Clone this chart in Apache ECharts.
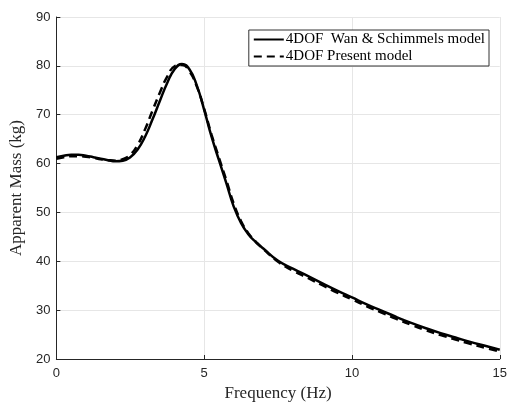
<!DOCTYPE html>
<html>
<head>
<meta charset="utf-8">
<script src="https://cdn.jsdelivr.net/npm/echarts@6/dist/echarts.min.js"></script>
<style>
  html, body { margin: 0; padding: 0; background: #fff; }
  #main { width: 510px; height: 407px; }
</style>
</head>
<body>
<div id="main"></div>
<script>
  // frequency (Hz)
  var freq = [0, 0.25, 0.5, 0.75, 1, 1.25, 1.5, 1.75, 2, 2.25, 2.5, 2.75, 3, 3.25, 3.5, 3.75,
    4, 4.25, 4.5, 4.75, 5, 5.25, 5.5, 5.75, 6, 6.25, 6.5, 6.75, 7, 7.5, 8, 8.5, 9, 9.5,
    10, 10.5, 11, 11.5, 12, 12.5, 13, 13.5, 14, 14.5, 15];
  // apparent mass (kg)
  var wanSchimmels = [61.3, 61.6, 61.8, 61.8, 61.6, 61.3, 61.0, 60.7, 60.5, 60.6, 61.3, 62.9, 65.5, 69.0, 72.8, 76.5,
    79.3, 80.4, 79.3, 76.0, 71.0, 65.5, 60.7, 56.0, 51.2, 47.8, 45.5, 43.9, 42.6, 40.1, 38.5, 37.0, 35.5, 34.0,
    32.6, 31.2, 29.9, 28.6, 27.4, 26.3, 25.3, 24.4, 23.5, 22.7, 21.9];
  var present = [61.0, 61.3, 61.5, 61.5, 61.4, 61.2, 60.9, 60.7, 60.6, 60.9, 61.8, 63.8, 67.0, 70.8, 74.5, 77.8,
    79.9, 80.2, 78.9, 75.8, 71.2, 65.9, 61.2, 56.6, 51.8, 48.2, 45.7, 44.0, 42.5, 39.9, 38.1, 36.6, 35.1, 33.6,
    32.2, 30.8, 29.5, 28.2, 27.0, 25.9, 24.9, 24.0, 23.1, 22.3, 21.5];

  var serieNames = ['4DOF  Wan & Schimmels model', '4DOF Present model'];

  var chartDom = document.getElementById('main');
  var myChart = echarts.init(chartDom);
  var option;

  function pairs(ys) {
    return freq.map(function (f, i) { return [f, ys[i]]; });
  }

  option = {
    animation: false,
    backgroundColor: '#fff',
    grid: {
      left: 55,
      right: 6,
      top: 17,
      bottom: 46
    },
    legend: {
      right: 21,
      top: 30,
      orient: 'vertical',
      itemGap: 2,
      itemWidth: 30,
      itemHeight: 12,
      padding: [2, 4, 2, 4],
      borderColor: '#333',
      borderWidth: 1,
      backgroundColor: '#fff',
      itemStyle: { opacity: 0 },
      textStyle: {
        fontFamily: 'Liberation Serif',
        fontSize: 15,
        color: '#000',
        padding: [0, 0, 0, -3]
      },
      data: serieNames
    },
    xAxis: {
      type: 'value',
      min: 0,
      max: 15,
      interval: 5,
      name: 'Frequency (Hz)',
      nameLocation: 'middle',
      nameGap: 26,
      nameTextStyle: {
        fontFamily: 'Liberation Serif',
        fontSize: 17,
        color: '#262626'
      },
      axisLine: { lineStyle: { color: '#262626', width: 1 } },
      axisTick: { inside: true, length: 4, lineStyle: { color: '#262626' } },
      axisLabel: {
        fontFamily: 'Liberation Sans',
        fontSize: 13,
        color: '#262626',
        margin: 8
      },
      splitLine: { show: true, lineStyle: { color: '#e6e6e6' } }
    },
    yAxis: {
      type: 'value',
      min: 20,
      max: 90,
      interval: 10,
      name: 'Apparent Mass (kg)',
      nameLocation: 'middle',
      nameGap: 30,
      nameTextStyle: {
        fontFamily: 'Liberation Serif',
        fontSize: 17,
        color: '#262626'
      },
      axisLine: { show: true, lineStyle: { color: '#262626', width: 1 } },
      axisTick: { show: true, inside: true, length: 4, lineStyle: { color: '#262626' } },
      axisLabel: {
        fontFamily: 'Liberation Sans',
        fontSize: 13,
        color: '#262626',
        margin: 6
      },
      splitLine: { show: true, lineStyle: { color: '#e6e6e6' } }
    },
    series: [
      {
        name: serieNames[0],
        type: 'line',
        smooth: true,
        showSymbol: false,
        symbol: 'none',
        lineStyle: { color: '#000', width: 2.5, type: 'solid' },
        itemStyle: { color: '#000' },
        data: pairs(wanSchimmels)
      },
      {
        name: serieNames[1],
        type: 'line',
        smooth: true,
        showSymbol: false,
        symbol: 'none',
        lineStyle: { color: '#000', width: 2.5, type: [8, 5] },
        itemStyle: { color: '#000' },
        data: pairs(present)
      }
    ]
  };

  option && myChart.setOption(option);
</script>
</body>
</html>
